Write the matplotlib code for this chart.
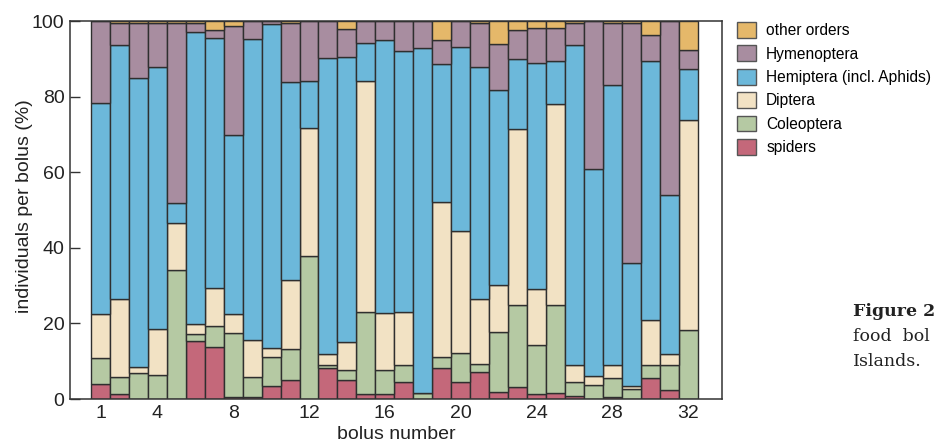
import matplotlib
matplotlib.use("Agg")
import matplotlib.pyplot as plt
import numpy as np
from matplotlib.patches import Patch

plt.rcParams['font.family'] = ['Liberation Sans', 'DejaVu Sans']

bolus = list(range(1, 33))
tick_labels = [1, 4, 8, 12, 16, 20, 24, 28, 32]

spiders = [4.1, 1.2, 0, 0, 0, 15.3, 13.7, 0.4, 0.4, 3.4, 5.0, 0, 8.1, 5.0, 1.2, 1.2,
           4.4, 0, 8.1, 4.5, 7.1, 1.9, 3.3, 1.2, 1.5, 0.8, 0, 0.4, 0, 5.6, 2.4, 0]
coleoptera = [6.7, 4.6, 7.0, 6.3, 34.2, 1.8, 5.6, 17.1, 5.4, 7.8, 8.1, 37.7, 0.9, 2.8, 21.7, 6.5,
              4.6, 1.5, 3.0, 7.8, 2.2, 15.9, 21.5, 13.1, 23.3, 3.8, 3.8, 5.2, 2.7, 3.3, 6.6, 18.2]
diptera = [11.6, 20.7, 1.4, 12.2, 12.3, 2.7, 10.1, 4.9, 9.8, 2.2, 18.3, 33.9, 2.9, 7.2, 61.1, 15.0,
           13.9, 0, 40.9, 32.1, 17.2, 12.3, 46.5, 14.7, 53.2, 4.4, 2.4, 3.4, 0.8, 12.0, 2.8, 55.6]
hemiptera = [55.8, 67.2, 76.4, 69.2, 5.3, 77.2, 66.0, 47.4, 79.7, 85.8, 52.5, 12.4, 78.2, 75.6, 10.3, 72.3,
             69.1, 91.4, 36.5, 48.8, 61.2, 51.6, 18.7, 59.8, 11.5, 84.7, 54.6, 74.1, 32.4, 68.4, 42.2, 13.5]
hymenoptera = [21.8, 5.9, 14.6, 11.9, 47.6, 2.4, 2.2, 28.9, 4.7, 0.8, 15.5, 16.0, 9.9, 7.3, 5.7, 5.0,
               8.0, 7.1, 6.6, 6.8, 11.7, 12.1, 7.6, 9.3, 8.7, 5.7, 39.2, 16.3, 63.5, 6.9, 46.0, 5.0]
other = [0, 0.4, 0.6, 0.4, 0.6, 0.6, 2.4, 1.3, 0, 0, 0.6, 0, 0, 2.1, 0, 0,
         0, 0, 4.9, 0, 0.6, 6.2, 2.4, 1.9, 1.8, 0.6, 0, 0.6, 0.6, 3.8, 0, 7.7]

series = [
    ("spiders", spiders, "#C4687A"),
    ("Coleoptera", coleoptera, "#B5C9A3"),
    ("Diptera", diptera, "#F2E2C4"),
    ("Hemiptera (incl. Aphids)", hemiptera, "#6CB8DA"),
    ("Hymenoptera", hymenoptera, "#A88DA0"),
    ("other orders", other, "#E5B86A"),
]

W, H = 934, 445
fig = plt.figure(figsize=(W / 100, H / 100), dpi=100)
ax = fig.add_axes([70 / W, 1 - 399 / H, (722 - 70) / W, (399 - 21) / H])

edge = "#2f2f2f"
bottom = np.zeros(len(bolus))
handles = []
for name, vals, col in series:
    v = np.array(vals, dtype=float)
    ax.bar(bolus, v, width=1.0, bottom=bottom, color=col, edgecolor=edge,
           linewidth=1.0, zorder=2)
    bottom += v
    handles.append(Patch(facecolor=col, edgecolor="#555555", linewidth=1.0, label=name))

ax.set_xlim(-0.61, 33.79)
ax.set_ylim(0, 100)
ax.set_yticks([0, 20, 40, 60, 80, 100])
ax.set_xticks(tick_labels)
ax.set_xticklabels([str(t) for t in tick_labels])
ax.tick_params(axis='y', direction='in', length=7, width=1.0, color="#333333",
               labelsize=14, pad=4, labelcolor="#222222")
ax.tick_params(axis='x', direction='in', length=0, labelsize=14, pad=4,
               labelcolor="#222222")
for s in ax.spines.values():
    s.set_color("#333333")
    s.set_linewidth(1.1)
    s.set_zorder(3)

ax.set_xlabel("bolus number", fontsize=14, color="#222222", labelpad=3)
ax.set_ylabel("individuals per bolus (%)", fontsize=14, color="#222222")
ax.yaxis.set_label_coords(-0.057, 0.51)

leg = fig.legend(handles=handles[::-1], loc="upper left",
                 bbox_to_anchor=(737 / W, 1 - 22 / H), frameon=False,
                 fontsize=11.2, handlelength=1.25, handleheight=1.2,
                 handletextpad=0.62, labelspacing=0.46, borderpad=0,
                 borderaxespad=0)

fig.text(853 / W, 1 - 316 / H, "Figure 2", fontsize=12.5, fontweight="bold",
         family="DejaVu Serif", color="#222222", va="baseline")
fig.text(853 / W, 1 - 341 / H, "food  bol", fontsize=12.5,
         family="DejaVu Serif", color="#222222", va="baseline")
fig.text(853 / W, 1 - 366 / H, "Islands.", fontsize=12.5,
         family="DejaVu Serif", color="#222222", va="baseline")

fig.savefig("out.png", dpi=100)
